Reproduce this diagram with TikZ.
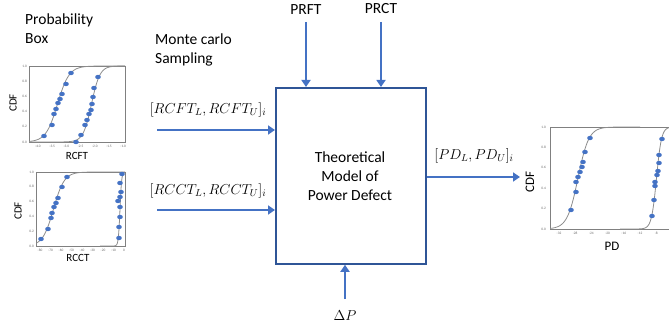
\documentclass[tikz,border=0pt]{standalone}
\usepackage{fontspec}
\setmainfont{Carlito}
\usetikzlibrary{arrows.meta}
\definecolor{arrblue}{RGB}{68,114,196}
\definecolor{boxblue}{RGB}{47,85,151}
\definecolor{dotblue}{RGB}{68,114,196}
\newcommand\sigcurve[6]{% center slope ybottom ytop xfrom xto
  \draw[curve] plot[domain=#5:#6, samples=90] (\x, {#3-(#3-#4)*0.5*(1+tanh(max(-6,min(6,#2*(\x-#1)))))});}
\begin{document}
\begin{tikzpicture}[x=1pt,y=-1pt,
  flow/.style={draw=arrblue, line width=2.6pt, -{Triangle[length=7pt,width=9pt]}},
  lbl/.style={font=\fontsize{15.5}{19}\selectfont, inner sep=0pt},
  mlbl/.style={font=\fontsize{14}{16}\selectfont, inner sep=0pt},
  modelbox/.style={draw=boxblue, line width=1.8pt, minimum width=150pt, minimum height=176pt, inner sep=0pt},
  frame/.style={draw=gray, line width=0.8pt},
  curve/.style={draw=gray!90, line width=0.8pt},
  pt/.style={fill=dotblue, draw=none},
  tick/.style={font=\fontsize{3.5}{4}\selectfont, text=gray!80!black, inner sep=0pt},
  axl/.style={font=\fontsize{11}{12}\selectfont, inner sep=0pt},
]
\useasboundingbox (0,0) rectangle (669,331);

% texts
\node[lbl, align=left, anchor=north west] (pbox) at (25,14) {Probability\\Box};
\node[lbl, align=left, anchor=north west] (mcs) at (155,34) {Monte carlo\\Sampling};

% model box
\node[modelbox, anchor=north west] (model) at (275,87) {};
\node[lbl, align=center] (mtext) at (350,176) {Theoretical\\Model of\\Power Defect};

% top inputs
\node[lbl] (prft) at (306,10) {PRFT};
\node[lbl] (prct) at (381,9) {PRCT};
\coordinate (prftS) at (306,22);
\coordinate (prctS) at (381,22);
\draw[flow] (prftS) -- (prftS |- model.north);
\draw[flow] (prctS) -- (prctS |- model.north);

% bottom input
\node[mlbl] (dp) at (345,316) {$\Delta P$};
\coordinate (dpS) at (345,299);
\draw[flow] (dpS) -- (dpS |- model.south);

% left inputs
\coordinate (rcftS) at (157,130);
\coordinate (rcctS) at (157,210);
\draw[flow] (rcftS) -- (rcftS -| model.west);
\draw[flow] (rcctS) -- (rcctS -| model.west);
\node[mlbl] (rcftl) at (208,110) {$[RCFT_L,RCFT_U]_i$};
\node[mlbl] (rcctl) at (208,191) {$[RCCT_L,RCCT_U]_i$};

% output
\coordinate (outE) at (520,177);
\draw[flow] (model.east |- outE) -- (outE);
\node[mlbl] (pdl) at (474,156) {$[PD_L,PD_U]_i$};

% ---------- plot 1 : RCFT ----------
\draw[frame] (29,66) rectangle (125,142);
\begin{scope}
\clip (29,60) rectangle (125,142.4);
\sigcurve{57.5}{0.086}{142}{66}{29}{125}
\sigcurve{91.5}{0.12}{142}{66}{29}{125}
\end{scope}
\foreach \px/\py in {44/136,52/125,54/114,56/109,58/103,60/99,62/94,66/84,71/73,
                     76/142,81/135,85/125,87/120,89/114,91/110,92/104,93/97,94/88,98/77}
  \fill[pt] (\px,\py) ellipse (2.8pt and 2.2pt);
\foreach \v [count=\i from 0] in {1.0,0.8,0.6,0.4,0.2,0.0}
  \node[tick, anchor=east] at (27,66+\i*15.2) {\v};
\foreach \v [count=\i from 0] in {-4.0,-3.5,-3.0,-2.5,-2.0,-1.5,-1.0}
  \node[tick] at (38+\i*14.2,146.5) {\v};
\node[axl, rotate=90] (cdf1) at (13,103) {CDF};
\node[axl] (x1) at (77,156) {RCFT};

% ---------- plot 2 : RCCT ----------
\draw[frame] (36,172) rectangle (125,246);
\begin{scope}
\clip (36,166) rectangle (125,246.4);
\sigcurve{53.5}{0.093}{246}{172}{36}{125}
\sigcurve{120}{0.6}{246}{172}{100}{125}
\end{scope}
\foreach \px/\py in {41/239,48/229,51/218,52/213,54/207,56/203,58/198,62/187,67/177,
                     119/238,119/227,120/217,120/207,118/201,120/197,121/192,120/183,122/174}
  \fill[pt] (\px,\py) ellipse (2.8pt and 2.2pt);
\foreach \v [count=\i from 0] in {1.0,0.8,0.6,0.4,0.2,0.0}
  \node[tick, anchor=east] at (34,172+\i*14.8) {\v};
\foreach \v [count=\i from 0] in {-80,-70,-60,-50,-40,-30,-20,-10,0}
  \node[tick] at (40+\i*10.5,250) {\v};
\node[axl, rotate=90] (cdf2) at (18,211) {CDF};
\node[axl] (x2) at (78,258) {RCCT};

% ---------- plot 3 : PD ----------
\draw[frame] (550,127) rectangle (669.5,229);
\begin{scope}
\clip (550,120) rectangle (669,229.4);
\sigcurve{578}{0.093}{229}{127}{550}{640}
\sigcurve{656.5}{0.2}{229}{127}{620}{669}
\end{scope}
\foreach \px/\py in {571/210,576/192,576/182,578/177,580/172,582/167,583/162,585/152,590/138,
                     652/216,654/200,655/186,655/182,657/175,658/171,659/163,659/155,662/139}
  \fill[pt] (\px,\py) ellipse (2.8pt and 2.2pt);
\foreach \v [count=\i from 0] in {1.0,0.8,0.6,0.4,0.2,0.0}
  \node[tick, anchor=east] at (546,127+\i*20.4) {\v};
\foreach \v [count=\i from 0] in {-32,-28,-24,-20,-16,-12,-8}
  \node[tick] at (559+\i*16.2,233.5) {\v};
\node[axl, font=\fontsize{13}{14}\selectfont, rotate=90] (cdf3) at (530,182) {CDF};
\node[axl, font=\fontsize{13}{14}\selectfont] (x3) at (612,246) {PD};
\end{tikzpicture}
\end{document}
